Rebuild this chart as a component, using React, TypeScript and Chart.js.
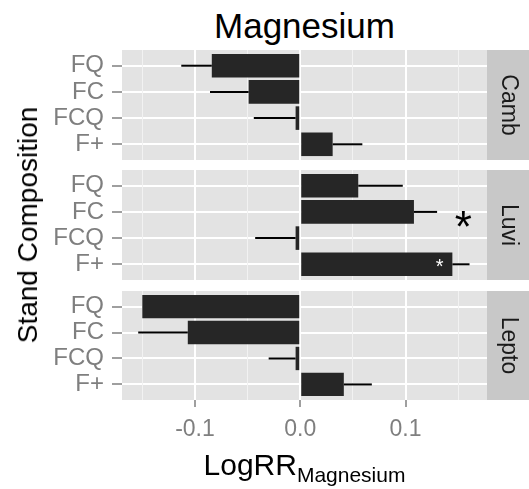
import React, { useEffect, useRef } from "react";
import { Chart, registerables } from "chart.js";

Chart.register(...registerables);

// ---------- data ----------
const categories = ["FQ", "FC", "FCQ", "F+"];
const panelNames = ["Camb", "Luvi", "Lepto"];

const cambValues = [-0.084, -0.049, -0.0044, 0.0308];
const cambErrorEnds = [-0.113, -0.0857, -0.0441, 0.059];
const luviValues = [0.0551, 0.108, -0.0044, 0.1445];
const luviErrorEnds = [0.0974, 0.13, -0.0428, 0.1608];
const leptoValues = [-0.15, -0.1068, -0.0044, 0.0414];
const leptoErrorEnds: (number | null)[] = [null, -0.1539, -0.03, 0.068];

const xMajorTicks = [-0.1, 0, 0.1];
const xTickLabels = ["-0.1", "0.0", "0.1"];
const xMinorTicks = [-0.15, -0.05, 0.05, 0.15];
const xMin = -0.1693;
const xMax = 0.1774;

// significance markers (panel, x value, category position)
const markerPanel = ["Luvi", "Luvi"];
const markerX = [0.155, 0.1324];
const markerY = [1.32, 2.93];
const markerText = ["*", "*"];

const titleText = "Magnesium";
const yTitleText = "Stand Composition";
const xTitleMain = "LogRR";
const xTitleSub = "Magnesium";

// ---------- styling / layout ----------
const FONT = "'Liberation Sans', Arial, Helvetica, sans-serif";
const GREY = "#7F7F7F";
const PANEL_BG = "#E3E3E3";
const STRIP_BG = "#C8C8C8";
const BAR = "#262626";
const W = 529;
const PANEL_LEFT = 122;
const STRIP_W = 42;
const AXIS_H = 89;

const valueSets = [cambValues, luviValues, leptoValues];
const errorSets: (number | null)[][] = [cambErrorEnds, luviErrorEnds, leptoErrorEnds];
const panelTops = [50, 170, 291];
const panelHeights = [110, 110, 109];

const isMajor = (v: number) => xMajorTicks.some((m) => Math.abs(m - v) < 1e-9);

function makePlugin(idx: number) {
  return {
    id: "facet" + idx,
    beforeDraw(chart: any) {
      const { ctx, chartArea } = chart;
      ctx.save();
      ctx.fillStyle = PANEL_BG;
      ctx.fillRect(chartArea.left, chartArea.top, chartArea.right - chartArea.left, chartArea.bottom - chartArea.top);
      ctx.fillStyle = STRIP_BG;
      ctx.fillRect(chartArea.right, chartArea.top, STRIP_W, chartArea.bottom - chartArea.top);
      ctx.translate(chartArea.right + STRIP_W / 2, (chartArea.top + chartArea.bottom) / 2);
      ctx.rotate(Math.PI / 2);
      ctx.fillStyle = "#1A1A1A";
      ctx.font = `23px ${FONT}`;
      ctx.textAlign = "center";
      ctx.textBaseline = "middle";
      ctx.fillText(panelNames[idx], 0, 0);
      ctx.restore();
    },
    afterDatasetsDraw(chart: any) {
      const { ctx } = chart;
      const xs = chart.scales.x;
      const ys = chart.scales.y;
      const vals = valueSets[idx];
      const errs = errorSets[idx];
      ctx.save();
      ctx.strokeStyle = "#000000";
      ctx.lineWidth = 2;
      vals.forEach((v, i) => {
        const e = errs[i];
        if (e === null || e === undefined) return;
        const y = ys.getPixelForValue(i);
        ctx.beginPath();
        ctx.moveTo(xs.getPixelForValue(v), y);
        ctx.lineTo(xs.getPixelForValue(e), y);
        ctx.stroke();
      });
      markerPanel.forEach((p, k) => {
        if (p !== panelNames[idx]) return;
        const x = xs.getPixelForValue(markerX[k]);
        const y = ys.getPixelForValue(markerY[k]);
        const inside = vals.some((v, i) => Math.abs(i - markerY[k]) < 0.45 && (v > 0 ? markerX[k] < v && markerX[k] > 0 : markerX[k] > v && markerX[k] < 0));
        ctx.fillStyle = inside ? "#FFFFFF" : "#000000";
        ctx.font = inside ? `20px ${FONT}` : `44px ${FONT}`;
        ctx.textAlign = "center";
        ctx.textBaseline = "middle";
        ctx.fillText(markerText[k], x, y + (inside ? 5 : 10));
      });
      ctx.restore();
    },
  };
}

function Panel({ idx }: { idx: number }) {
  const ref = useRef<HTMLCanvasElement>(null);
  const showAxis = idx === panelNames.length - 1;
  const h = panelHeights[idx] + (showAxis ? AXIS_H : 0);
  useEffect(() => {
    if (!ref.current) return;
    const chart = new Chart(ref.current, {
      type: "bar",
      data: {
        datasets: [
          {
            data: valueSets[idx].map((v, i) => ({ x: v, y: i })) as any,
            backgroundColor: BAR,
            borderWidth: 0,
            barPercentage: 0.9,
            categoryPercentage: 1,
          },
        ],
      },
      options: {
        indexAxis: "y",
        responsive: false,
        maintainAspectRatio: false,
        animation: false,
        events: [],
        layout: { padding: { left: 0, right: STRIP_W, top: 0, bottom: 0 } },
        plugins: { legend: { display: false }, tooltip: { enabled: false }, title: { display: false } },
        scales: {
          y: {
            type: "linear",
            reverse: true,
            min: -0.6,
            max: 3.6,
            offset: false,
            afterBuildTicks: (s: any) => {
              s.ticks = categories.map((_, i) => ({ value: i }));
            },
            afterFit: (s: any) => {
              s.width = PANEL_LEFT;
              s.paddingTop = 0;
              s.paddingBottom = 0;
            },
            ticks: {
              autoSkip: false,
              callback: (v: any) => categories[Math.round(Number(v))],
              font: { family: FONT, size: 24 },
              color: GREY,
              padding: 8,
            },
            grid: {
              offset: false,
              color: "#FFFFFF",
              lineWidth: 2,
              drawTicks: true,
              tickLength: 10,
              tickColor: GREY,
              tickWidth: 1.5,
            },
            border: { display: false },
          },
          x: {
            type: "linear",
            min: xMin,
            max: xMax,
            offset: false,
            afterBuildTicks: (s: any) => {
              s.ticks = [...xMajorTicks, ...xMinorTicks].sort((a, b) => a - b).map((v) => ({ value: v }));
            },
            afterFit: (s: any) => {
              s.height = showAxis ? AXIS_H : 0;
              s.paddingLeft = 0;
              s.paddingRight = 0;
            },
            ticks: {
              display: showAxis,
              autoSkip: false,
              maxRotation: 0,
              callback: (v: any) => {
                const k = xMajorTicks.findIndex((m) => Math.abs(m - Number(v)) < 1e-9);
                return k >= 0 ? xTickLabels[k] : "";
              },
              font: { family: FONT, size: 23 },
              color: GREY,
              padding: 9,
            },
            grid: {
              offset: false,
              color: (c: any) => (isMajor(c.tick.value) ? "#FFFFFF" : "#F2F2F2"),
              lineWidth: (c: any) => (isMajor(c.tick.value) ? 2 : 1),
              drawTicks: showAxis,
              tickLength: 7,
              tickWidth: 1.5,
              tickColor: (c: any) => (isMajor(c.tick.value) ? GREY : "rgba(0,0,0,0)"),
            },
            border: { display: false },
          },
        },
      } as any,
      plugins: [makePlugin(idx)],
    });
    return () => chart.destroy();
  }, [idx]);
  return (
    <canvas
      ref={ref}
      width={W}
      height={h}
      style={{ position: "absolute", left: 0, top: panelTops[idx], width: W, height: h, display: "block" }}
    />
  );
}

export default function App() {
  const panelCenter = PANEL_LEFT + (W - STRIP_W - PANEL_LEFT) / 2;
  return (
    <div
      style={{
        position: "absolute",
        left: 0,
        top: 0,
        width: W,
        height: 489,
        background: "#FFFFFF",
        overflow: "hidden",
        fontFamily: FONT,
      }}
    >
      {panelNames.map((_, i) => (
        <Panel key={i} idx={i} />
      ))}
      <div
        style={{
          position: "absolute",
          left: panelCenter - 150,
          width: 300,
          top: 8,
          textAlign: "center",
          fontSize: 35,
          lineHeight: "35px",
          color: "#000",
          whiteSpace: "nowrap",
        }}
      >
        {titleText}
      </div>
      <div
        style={{
          position: "absolute",
          left: 28,
          top: 225,
          transform: "translate(-50%, -50%) rotate(-90deg)",
          fontSize: 28,
          lineHeight: "28px",
          color: "#000",
          whiteSpace: "nowrap",
        }}
      >
        {yTitleText}
      </div>
      <div
        style={{
          position: "absolute",
          left: panelCenter - 150,
          width: 300,
          top: 450,
          textAlign: "center",
          fontSize: 30,
          lineHeight: "30px",
          color: "#000",
          whiteSpace: "nowrap",
        }}
      >
        {xTitleMain}
        <span style={{ fontSize: 21, verticalAlign: -7 }}>{xTitleSub}</span>
      </div>
    </div>
  );
}
